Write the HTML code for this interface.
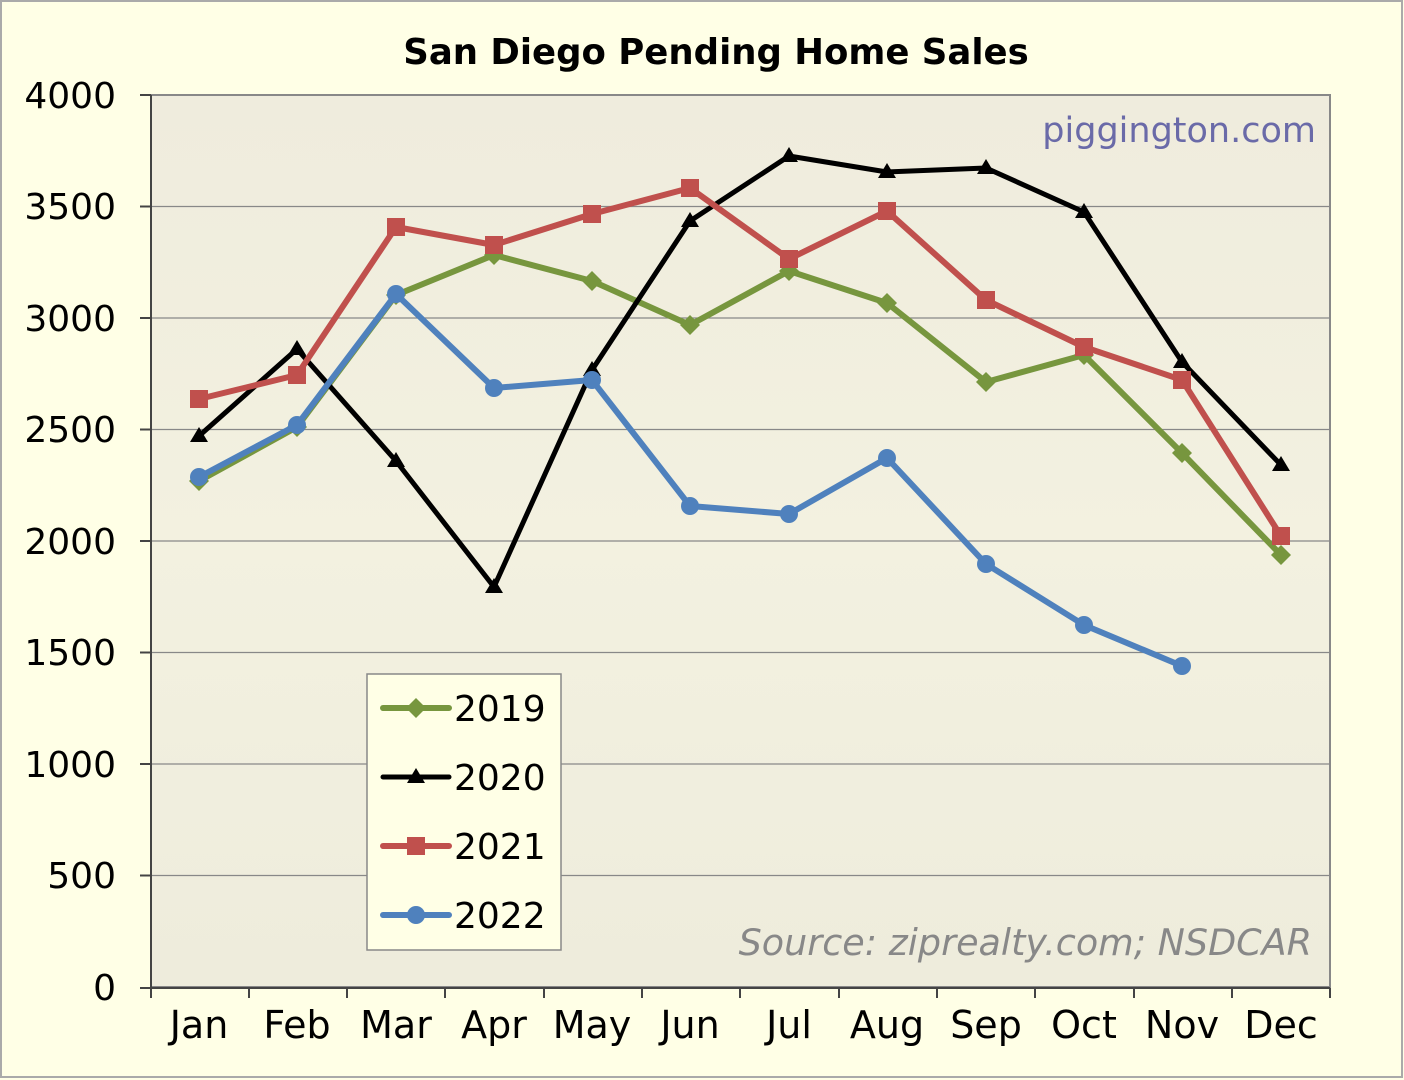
<!DOCTYPE html>
<html><head><style>
body{margin:0;background:#fff;}
svg{display:block;font-family:"DejaVu Sans","Liberation Sans",sans-serif;}
</style></head><body>
<svg width="1404" height="1080" viewBox="0 0 1404 1080">
<defs><linearGradient id="g" x1="0" y1="0" x2="0" y2="1"><stop offset="0" stop-color="#EFECDD"/><stop offset="0.5" stop-color="#F3F1E0"/><stop offset="1" stop-color="#EEECDC"/></linearGradient></defs>
<rect x="0" y="0" width="1404" height="1080" fill="#FFFFE6"/>
<rect x="1" y="1" width="1401" height="1076" fill="none" stroke="#AAAAAA" stroke-width="2"/>
<text x="716" y="64" text-anchor="middle" font-size="35.5" font-weight="bold">San Diego Pending Home Sales</text>
<rect x="151" y="95" width="1179" height="892" fill="url(#g)" stroke="#888" stroke-width="2"/>
<g stroke="#888" stroke-width="1.2">
<line x1="151" y1="206.5" x2="1330" y2="206.5"/><line x1="151" y1="318" x2="1330" y2="318"/><line x1="151" y1="429.5" x2="1330" y2="429.5"/><line x1="151" y1="541" x2="1330" y2="541"/><line x1="151" y1="652.5" x2="1330" y2="652.5"/><line x1="151" y1="764" x2="1330" y2="764"/><line x1="151" y1="875.5" x2="1330" y2="875.5"/>
</g>
<g stroke="#444" stroke-width="2">
<line x1="151" y1="95" x2="151" y2="988"/><line x1="140" y1="988" x2="1330" y2="988"/>
<line x1="140" y1="95" x2="151" y2="95"/><line x1="140" y1="206.5" x2="151" y2="206.5"/><line x1="140" y1="318" x2="151" y2="318"/><line x1="140" y1="429.5" x2="151" y2="429.5"/><line x1="140" y1="541" x2="151" y2="541"/><line x1="140" y1="652.5" x2="151" y2="652.5"/><line x1="140" y1="764" x2="151" y2="764"/><line x1="140" y1="875.5" x2="151" y2="875.5"/>
<line x1="151" y1="988" x2="151" y2="998"/><line x1="249" y1="988" x2="249" y2="998"/><line x1="347" y1="988" x2="347" y2="998"/><line x1="445" y1="988" x2="445" y2="998"/><line x1="544" y1="988" x2="544" y2="998"/><line x1="642" y1="988" x2="642" y2="998"/><line x1="740" y1="988" x2="740" y2="998"/><line x1="839" y1="988" x2="839" y2="998"/><line x1="937" y1="988" x2="937" y2="998"/><line x1="1035" y1="988" x2="1035" y2="998"/><line x1="1134" y1="988" x2="1134" y2="998"/><line x1="1232" y1="988" x2="1232" y2="998"/><line x1="1330" y1="988" x2="1330" y2="998"/>
</g>
<g font-size="36" text-anchor="end" fill="#000">
<text x="116" y="108">4000</text><text x="116" y="219">3500</text><text x="116" y="331">3000</text><text x="116" y="442">2500</text><text x="116" y="554">2000</text><text x="116" y="665">1500</text><text x="116" y="777">1000</text><text x="116" y="888">500</text><text x="116" y="1000">0</text>
</g>
<g font-size="38" text-anchor="middle">
<text x="199" y="1038">Jan</text><text x="297" y="1038">Feb</text><text x="396" y="1038">Mar</text><text x="494" y="1038">Apr</text><text x="592" y="1038">May</text><text x="690" y="1038">Jun</text><text x="789" y="1038">Jul</text><text x="887" y="1038">Aug</text><text x="986" y="1038">Sep</text><text x="1084" y="1038">Oct</text><text x="1182" y="1038">Nov</text><text x="1281" y="1038">Dec</text>
</g>
<text x="1316" y="142" text-anchor="end" font-size="35" fill="#6A6AA8">piggington.com</text>
<text x="1312" y="955" text-anchor="end" font-size="36.5" font-style="italic" fill="#888">Source: ziprealty.com; NSDCAR</text>
<!-- 2019 -->
<polyline fill="none" stroke="#77963E" stroke-width="6" stroke-linejoin="round" points="199,481 297,427 396,295 494,255 592,281 690,325 789,271 887,303 986,382 1084,355 1182,453 1281,555"/>
<g fill="#77963E">
<path d="M199,471l10,10l-10,10l-10,-10z"/><path d="M297,417l10,10l-10,10l-10,-10z"/><path d="M396,285l10,10l-10,10l-10,-10z"/><path d="M494,245l10,10l-10,10l-10,-10z"/><path d="M592,271l10,10l-10,10l-10,-10z"/><path d="M690,315l10,10l-10,10l-10,-10z"/><path d="M789,261l10,10l-10,10l-10,-10z"/><path d="M887,293l10,10l-10,10l-10,-10z"/><path d="M986,372l10,10l-10,10l-10,-10z"/><path d="M1084,345l10,10l-10,10l-10,-10z"/><path d="M1182,443l10,10l-10,10l-10,-10z"/><path d="M1281,545l10,10l-10,10l-10,-10z"/>
</g>
<!-- 2020 -->
<polyline fill="none" stroke="#000" stroke-width="5" stroke-linejoin="round" points="199,436 297,349 396,461 494,587 592,370 690,221 789,156 887,172 986,168 1084,212 1182,362 1281,465"/>
<g fill="#000">
<path d="M199,427l9,15h-18z"/><path d="M297,340l9,15h-18z"/><path d="M396,452l9,15h-18z"/><path d="M494,578l9,15h-18z"/><path d="M592,361l9,15h-18z"/><path d="M690,212l9,15h-18z"/><path d="M789,147l9,15h-18z"/><path d="M887,163l9,15h-18z"/><path d="M986,159l9,15h-18z"/><path d="M1084,203l9,15h-18z"/><path d="M1182,353l9,15h-18z"/><path d="M1281,456l9,15h-18z"/>
</g>
<!-- 2021 -->
<polyline fill="none" stroke="#C0504D" stroke-width="6" stroke-linejoin="round" points="199,399 297,375 396,227 494,245 592,214 690,188 789,259 887,211 986,300 1084,347 1182,380 1281,536"/>
<g fill="#C0504D">
<rect x="190" y="390" width="18" height="18"/><rect x="288" y="366" width="18" height="18"/><rect x="387" y="218" width="18" height="18"/><rect x="485" y="236" width="18" height="18"/><rect x="583" y="205" width="18" height="18"/><rect x="681" y="179" width="18" height="18"/><rect x="780" y="250" width="18" height="18"/><rect x="878" y="202" width="18" height="18"/><rect x="977" y="291" width="18" height="18"/><rect x="1075" y="338" width="18" height="18"/><rect x="1173" y="371" width="18" height="18"/><rect x="1272" y="527" width="18" height="18"/>
</g>
<!-- 2022 -->
<polyline fill="none" stroke="#4F81BD" stroke-width="6" stroke-linejoin="round" points="199,477 297,425 396,294 494,388 592,380 690,506 789,514 887,458 986,564 1084,625 1182,666"/>
<g fill="#4F81BD">
<circle cx="199" cy="477" r="9"/><circle cx="297" cy="425" r="9"/><circle cx="396" cy="294" r="9"/><circle cx="494" cy="388" r="9"/><circle cx="592" cy="380" r="9"/><circle cx="690" cy="506" r="9"/><circle cx="789" cy="514" r="9"/><circle cx="887" cy="458" r="9"/><circle cx="986" cy="564" r="9"/><circle cx="1084" cy="625" r="9"/><circle cx="1182" cy="666" r="9"/>
</g>
<!-- legend -->
<rect x="367" y="674" width="194" height="276" fill="#FFFFE6" stroke="#888" stroke-width="1.5"/>
<g font-size="36">
<line x1="383" y1="708" x2="449" y2="708" stroke="#77963E" stroke-width="6" stroke-linecap="round"/><path d="M416,698l10,10l-10,10l-10,-10z" fill="#77963E"/><text x="454" y="721">2019</text>
<line x1="383" y1="777" x2="449" y2="777" stroke="#000" stroke-width="5" stroke-linecap="round"/><path d="M416,768l9,15h-18z"/><text x="454" y="790">2020</text>
<line x1="383" y1="846" x2="449" y2="846" stroke="#C0504D" stroke-width="6" stroke-linecap="round"/><rect x="407" y="837" width="18" height="18" fill="#C0504D"/><text x="454" y="859">2021</text>
<line x1="383" y1="915" x2="449" y2="915" stroke="#4F81BD" stroke-width="6" stroke-linecap="round"/><circle cx="416" cy="915" r="9" fill="#4F81BD"/><text x="454" y="928">2022</text>
</g>
</svg>
</body></html>
